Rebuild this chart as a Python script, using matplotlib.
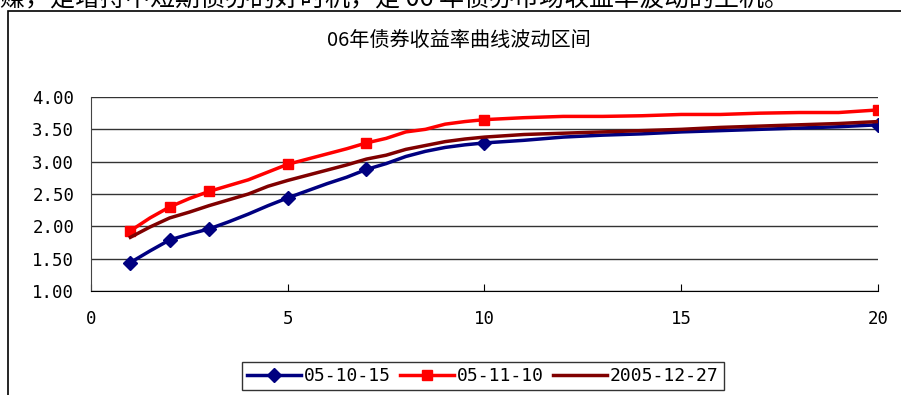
import matplotlib
matplotlib.use("Agg")
import matplotlib.pyplot as plt
from matplotlib.patches import Rectangle
from matplotlib.lines import Line2D

# tenor (years) and yield curves
tenor = [1, 1.5, 2, 2.5, 3, 3.5, 4, 4.5, 5, 5.5, 6, 6.5, 7, 7.5, 8, 8.5, 9, 9.5, 10,
         11, 12, 13, 14, 15, 16, 17, 18, 19, 20]
y_051015 = [1.44, 1.62, 1.79, 1.88, 1.96, 2.07, 2.19, 2.32, 2.44, 2.55, 2.66, 2.76, 2.88,
            2.97, 3.08, 3.16, 3.22, 3.26, 3.29, 3.33, 3.38, 3.41, 3.43, 3.46, 3.48, 3.50,
            3.52, 3.54, 3.57]
y_051110 = [1.93, 2.13, 2.30, 2.43, 2.54, 2.63, 2.72, 2.84, 2.96, 3.04, 3.12, 3.20, 3.29,
            3.36, 3.46, 3.50, 3.58, 3.62, 3.65, 3.68, 3.70, 3.70, 3.71, 3.73, 3.73, 3.75,
            3.76, 3.76, 3.80]
y_051227 = [1.83, 1.99, 2.13, 2.22, 2.32, 2.41, 2.50, 2.62, 2.71, 2.79, 2.87, 2.95, 3.04,
            3.10, 3.19, 3.25, 3.31, 3.35, 3.38, 3.42, 3.44, 3.46, 3.48, 3.50, 3.53, 3.55,
            3.57, 3.59, 3.62]
labels = ["05-10-15", "05-11-10", "2005-12-27"]
marked = [1, 2, 3, 5, 7, 10, 20]
mark_idx = [tenor.index(t) for t in marked]

mono = "DejaVu Sans Mono"
cjk = ["Noto Sans CJK SC", "DejaVu Sans"]

fig = plt.figure(figsize=(9.01, 3.95), dpi=100)

# running text of the page above the chart, cut off by the top edge
fig.text(0.0, 1.0 + 2 / 395, "赚，是增持中短期债券的好时机，是 06 年债券市场收益率波动的主机。",
         family=cjk, fontsize=18, ha="left", va="center", color="black")

# chart frame
fig.patches.append(Rectangle((8 / 901, -0.05), 1.0, 1 - 11 / 395 + 0.05,
                             transform=fig.transFigure, fill=False,
                             edgecolor="black", linewidth=1.2))

ax = fig.add_axes([91 / 901, 1 - 291 / 395, (878 - 91) / 901, (291 - 97) / 395])

ax.plot(tenor, y_051015, color="#000080", lw=2.5, marker="D", ms=7,
        markevery=mark_idx, label=labels[0])
ax.plot(tenor, y_051110, color="#ff0000", lw=2.5, marker="s", ms=7.5,
        markevery=mark_idx, label=labels[1])
ax.plot(tenor, y_051227, color="#800000", lw=2.5, label=labels[2])

ax.set_xlim(0, 20)
ax.set_ylim(1.0, 4.0)
ax.set_xticks([0, 5, 10, 15, 20])
ax.set_yticks([1.0, 1.5, 2.0, 2.5, 3.0, 3.5, 4.0])
ax.set_yticklabels(["%.2f" % v for v in ax.get_yticks()], family=mono, fontsize=12.5)
ax.set_xticklabels(["0", "5", "10", "15", "20"], family=mono, fontsize=12.5)
ax.yaxis.grid(True, color="#333333", lw=1)
ax.set_axisbelow(True)
for s in ["top", "right"]:
    ax.spines[s].set_visible(False)
ax.spines["left"].set_color("#444444")
ax.spines["bottom"].set_color("black")
ax.tick_params(axis="y", length=0, pad=12)
ax.tick_params(axis="x", direction="in", length=5, pad=14)

fig.text(459 / 901, 1 - 40 / 395, "06年债券收益率曲线波动区间", family=cjk,
         fontsize=14.5, ha="center", va="center")

handles = [Line2D([], [], color="#000080", lw=2.5, marker="D", ms=7),
           Line2D([], [], color="#ff0000", lw=2.5, marker="s", ms=7.5),
           Line2D([], [], color="#800000", lw=2.5)]
leg = fig.legend(handles, labels, loc="center", bbox_to_anchor=(483 / 901, 1 - 376 / 395),
                 ncol=3, frameon=True, fancybox=False, edgecolor="black",
                 prop={"family": mono, "size": 13}, handlelength=3.0,
                 handletextpad=0.15, columnspacing=0.5, borderpad=0.3)
leg.get_frame().set_linewidth(1)

fig.savefig("out.png", dpi=100)
